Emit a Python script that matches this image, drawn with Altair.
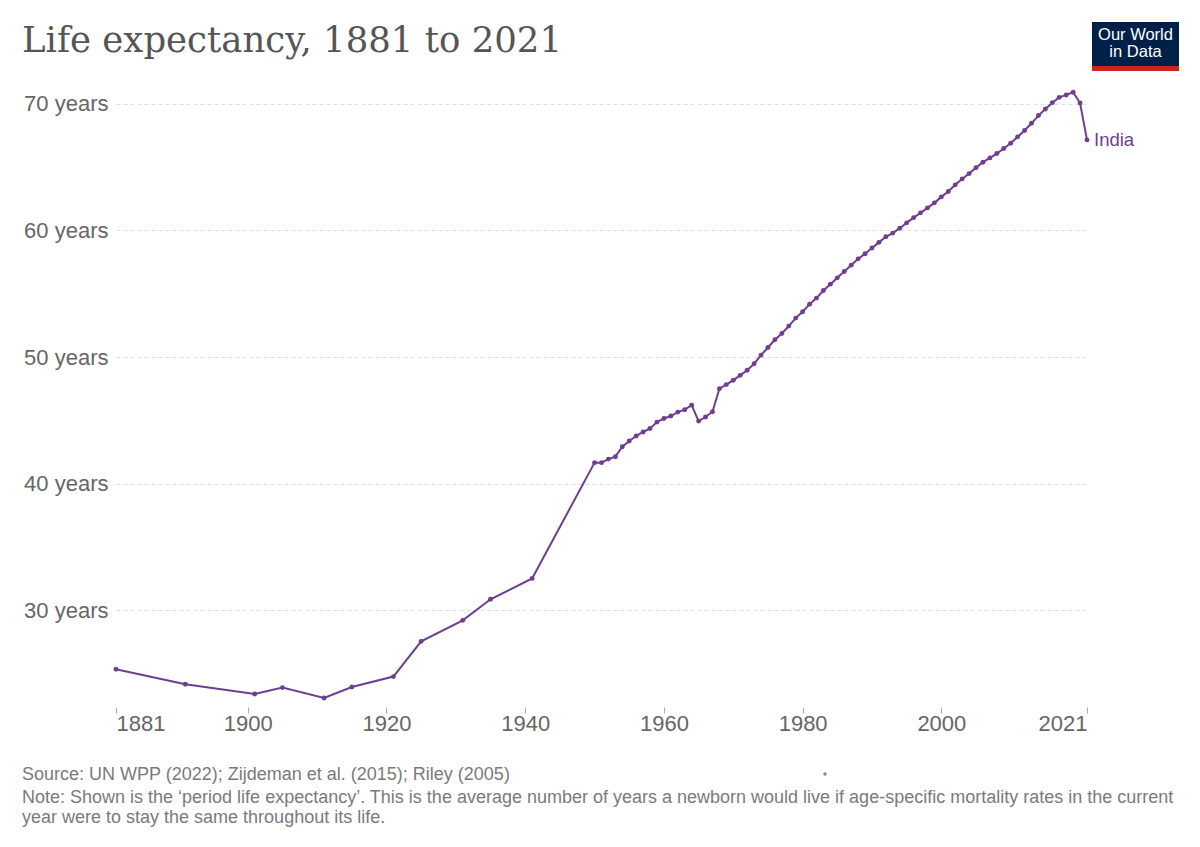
import altair as alt
import pandas as pd

# ---------------- data ----------------
years_early = [1881, 1891, 1901, 1905, 1911, 1915, 1921, 1925, 1931, 1935, 1941]
life_early = [25.35, 24.16, 23.40, 23.90, 23.08, 23.95, 24.77, 27.55, 29.21, 30.87, 32.52]

years_annual = list(range(1950, 2022))
life_annual = [
    41.66, 41.66, 41.94, 42.13, 42.92, 43.37, 43.76, 44.08, 44.36, 44.86,  # 1950s
    45.15, 45.34, 45.65, 45.84, 46.20, 44.94, 45.26, 45.68, 47.50, 47.82,  # 1960s
    48.17, 48.55, 48.95, 49.47, 50.15, 50.75, 51.36, 51.86, 52.44, 53.07,  # 1970s
    53.57, 54.17, 54.65, 55.25, 55.75, 56.25, 56.75, 57.25, 57.75, 58.15,  # 1980s
    58.60, 59.05, 59.49, 59.78, 60.17, 60.59, 61.00, 61.38, 61.77, 62.17,  # 1990s
    62.64, 63.06, 63.59, 64.06, 64.48, 64.95, 65.38, 65.72, 66.06, 66.46,  # 2000s
    66.88, 67.38, 67.88, 68.45, 69.06, 69.58, 70.08, 70.50, 70.69, 70.90,  # 2010s
    70.05, 67.14,                                                          # 2020s
]

country = "India"
x_ticks = [1881, 1900, 1920, 1940, 1960, 1980, 2000, 2021]
y_ticks = [30, 40, 50, 60, 70]

title_text = "Life expectancy, 1881 to 2021"
source_text = "Source: UN WPP (2022); Zijdeman et al. (2015); Riley (2005)"
note_line1 = ("Note: Shown is the \u2018period life expectancy\u2019. This is the average number of years a newborn "
              "would live if age-specific mortality rates in the current")
note_line2 = "year were to stay the same throughout its life."
logo_line1 = "Our World"
logo_line2 = "in Data"

df = pd.DataFrame({
    "year": years_early + years_annual,
    "life": life_early + life_annual,
})
df["country"] = country
last = df.tail(1)

PURPLE = "#6D3E91"
SANS = "Liberation Sans"

x_enc = alt.X(
    "year:Q",
    scale=alt.Scale(domain=[1881, 2021], nice=False, zero=False),
    axis=alt.Axis(
        values=x_ticks, format="d", title="", grid=False, domain=False,
        ticks=True, tickColor="#aaa", tickSize=6, offset=8, labelPadding=0,
        labelFlush=True, labelFont=SANS, labelFontSize=22, labelColor="#666",
    ),
)
y_enc = alt.Y(
    "life:Q",
    scale=alt.Scale(domain=[23, 71], nice=False, zero=False),
    axis=alt.Axis(
        values=y_ticks, labelExpr="datum.value + ' years'", title="",
        grid=True, gridDash=[4, 3], gridColor="#dddddd", domain=False,
        ticks=False, labelPadding=8, labelFont=SANS, labelFontSize=22,
        labelColor="#666",
    ),
)

line = alt.Chart(df).mark_line(color=PURPLE, strokeWidth=2).encode(x=x_enc, y=y_enc)
pts = alt.Chart(df).mark_circle(color=PURPLE, size=24, opacity=1).encode(x="year:Q", y="life:Q")
lbl = alt.Chart(last).mark_text(
    align="left", baseline="middle", dx=7, font=SANS, fontSize=18.5, color=PURPLE
).encode(x="year:Q", y="life:Q", text="country:N")


def text_layer(txt, x, y, size, color, font=SANS, align="left"):
    return alt.Chart(pd.DataFrame({"t": [txt]})).mark_text(
        align=align, baseline="alphabetic", font=font, fontSize=size, color=color
    ).encode(x=alt.value(x), y=alt.value(y), text="t:N")


title = text_layer(title_text, -94, -39, 35.5, "#555555", font="DejaVu Serif")
src = text_layer(source_text, -94, 689, 18, "#7a7a7a")
n1 = text_layer(note_line1, -94, 712, 18, "#7a7a7a")
n2 = text_layer(note_line2, -94, 732, 18, "#7a7a7a")

one = pd.DataFrame({"k": [1]})
logo_bg = alt.Chart(one).mark_rect(color="#002147").encode(
    x=alt.value(976), x2=alt.value(1063), y=alt.value(-69), y2=alt.value(-25)
)
logo_red = alt.Chart(one).mark_rect(color="#CE261E").encode(
    x=alt.value(976), x2=alt.value(1063), y=alt.value(-25), y2=alt.value(-20)
)
logo_t1 = text_layer(logo_line1, 1019.5, -51, 16.5, "white", align="center")
logo_t2 = text_layer(logo_line2, 1019.5, -34, 16.5, "white", align="center")

dot = alt.Chart(one).mark_circle(color="#888888", size=12, opacity=1).encode(
    x=alt.value(709), y=alt.value(683)
)

chart = alt.layer(
    line, pts, lbl, title, src, n1, n2, logo_bg, logo_red, logo_t1, logo_t2, dot
).properties(
    width=971, height=608, autosize="none",
    padding={"left": 108, "top": 83, "right": 105, "bottom": 140},
    background="white",
).configure_view(strokeWidth=0)

chart.save("out.html", embed_options={"renderer": "svg", "actions": False})
